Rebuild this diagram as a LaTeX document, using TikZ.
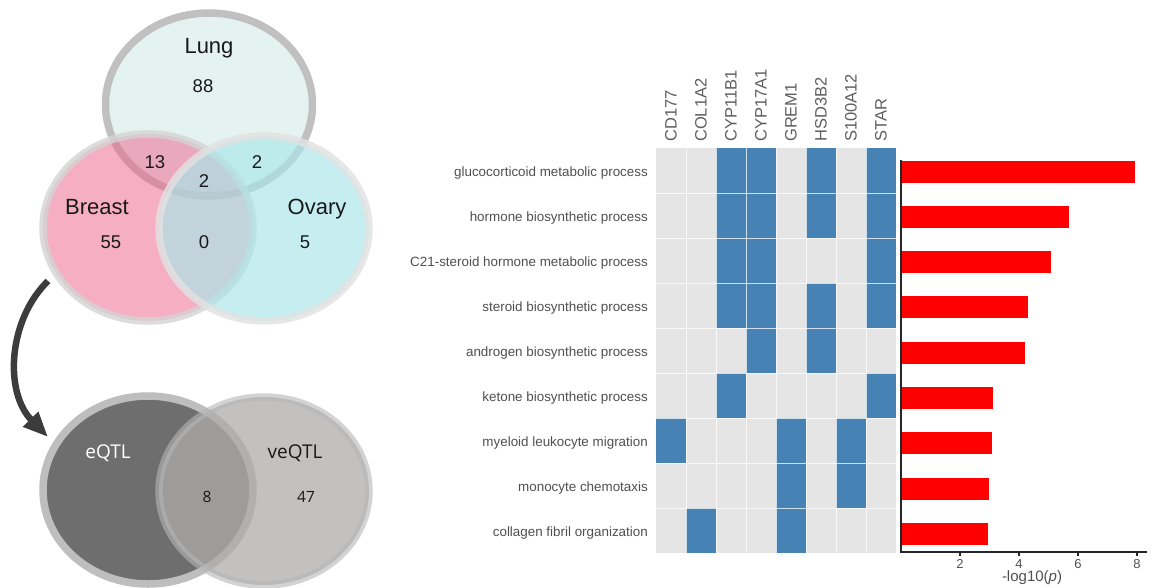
\documentclass[tikz,border=0pt]{standalone}
\usepackage{fontspec}
\setmainfont{Liberation Sans}
\newfontfamily\osans{Open Sans}
\usetikzlibrary{arrows.meta}
\definecolor{lungfill}{RGB}{229,243,240}
\definecolor{lungbd}{RGB}{192,192,192}
\definecolor{breastfill}{RGB}{237,95,139}
\definecolor{breastbd}{RGB}{212,212,212}
\definecolor{ovaryfill}{RGB}{170,230,233}
\definecolor{ovarybd}{RGB}{226,226,226}
\definecolor{eqfill}{RGB}{110,110,110}
\definecolor{eqbd}{RGB}{190,190,190}
\definecolor{veqfill}{RGB}{175,171,171}
\definecolor{veqbd}{RGB}{182,182,182}
\definecolor{hmgray}{RGB}{229,229,229}
\definecolor{hmblue}{RGB}{70,130,180}
\definecolor{labgray}{RGB}{80,80,80}
\definecolor{colgray}{RGB}{95,95,95}
\definecolor{arrowc}{RGB}{60,60,60}
\definecolor{txt}{RGB}{25,25,25}
\tikzset{
  vennbd/.style={line width=7.5pt},
  vennlab/.style={inner sep=0pt, anchor=base, text=txt, font=\fontsize{22}{26}\selectfont},
  vennnum/.style={inner sep=0pt, anchor=base, text=txt, font=\fontsize{18.5}{22}\selectfont},
  qtllab/.style={inner sep=0pt, anchor=base, font=\osans\fontsize{19}{23}\selectfont},
  qtlnum/.style={inner sep=0pt, anchor=base, text=txt, font=\osans\fontsize{15.5}{18}\selectfont},
  collab/.style={inner sep=0pt, rotate=90, anchor=west, text=colgray, font=\fontsize{16.5}{19}\selectfont},
  rowlab/.style={inner sep=0pt, anchor=base east, text=labgray, font=\fontsize{13.4}{16}\selectfont},
  ticklab/.style={inner sep=0pt, anchor=base, text=labgray, font=\fontsize{13}{15}\selectfont},
  cellgrid/.style={white, line width=0.8pt, opacity=0.75},
  bigarrow/.style={arrowc, line width=6.5pt, -{Triangle[length=25pt,width=20pt]}},
  axisline/.style={black!85, line width=1.2pt},
}
\begin{document}
\begin{tikzpicture}[x=1pt,y=-1pt]
\useasboundingbox (0,0) rectangle (1155,587);
\clip (0,0) rectangle (1155,587);
\fill[white] (0,0) rectangle (1155,587);

% ---------- top Venn ----------
\fill[lungfill] (209,104.5) ellipse [x radius=103.5pt, y radius=91.5pt];
\draw[vennbd, lungbd] (209,104.5) ellipse [x radius=103.5pt, y radius=91.5pt];
\fill[breastfill, fill opacity=0.5] (148,227.5) ellipse [x radius=105pt, y radius=93.5pt];
\draw[vennbd, breastbd, draw opacity=0.8] (148,227.5) ellipse [x radius=105pt, y radius=93.5pt];
\fill[ovaryfill, fill opacity=0.67] (264,228.5) ellipse [x radius=105pt, y radius=92.5pt];
\draw[vennbd, ovarybd, draw opacity=0.8] (264,228.5) ellipse [x radius=105pt, y radius=92.5pt];

\node[vennlab] (lung) at (209,53) {Lung};
\node[vennnum] (n88) at (203,92) {88};
\node[vennnum] (n13) at (155,168) {13};
\node[vennnum] (n2a) at (257,168) {2};
\node[vennnum] (n2b) at (204,187) {2};
\node[vennlab] (breast) at (97,214) {Breast};
\node[vennlab] (ovary) at (317,214) {Ovary};
\node[vennnum] (n55) at (111,248) {55};
\node[vennnum] (n0) at (204,248) {0};
\node[vennnum] (n5) at (305,248) {5};

% ---------- bottom Venn ----------
\fill[eqfill] (148,490) ellipse [x radius=105pt, y radius=94pt];
\draw[vennbd, eqbd] (148,490) ellipse [x radius=105pt, y radius=94pt];
\fill[veqfill, fill opacity=0.745] (264,491) ellipse [x radius=105pt, y radius=94pt];
\draw[vennbd, veqbd, draw opacity=0.6] (264,491) ellipse [x radius=105pt, y radius=94pt];

\node[qtllab, text=white] (eqtl) at (108,458) {eQTL};
\node[qtllab, text=txt] (veqtl) at (295,458) {veQTL};
\node[qtlnum] (n8) at (207,502) {8};
\node[qtlnum] (n47) at (306,502) {47};

% ---------- arrow ----------
\coordinate (arrS) at (48,281);
\coordinate (arrE) at (48,437);
\draw[bigarrow] (arrS) .. controls (8,320) and (4,392) .. (arrE);

% ---------- heatmap ----------
\foreach \r in {1,...,9} {
  \foreach \c in {1,...,8} {
    \fill[hmgray] ({656+30*(\c-1)},{148+45*(\r-1)}) rectangle +(30,45);
  }
}
\foreach \r/\c in {1/3,1/4,1/6,1/8,2/3,2/4,2/6,2/8,3/3,3/4,3/8,4/3,4/4,4/6,4/8,5/4,5/6,6/3,6/8,7/1,7/5,7/7,8/5,8/7,9/2,9/5} {
  \fill[hmblue] ({656+30*(\c-1)},{148+45*(\r-1)}) rectangle +(30,45);
}
\foreach \k in {1,...,7} {
  \draw[cellgrid] ({656+30*\k},148) -- ({656+30*\k},553);
}
\foreach \k in {1,...,8} {
  \draw[cellgrid] (656,{148+45*\k}) -- (896,{148+45*\k});
}

\foreach \t [count=\c] in {CD177,COL1A2,CYP11B1,CYP17A1,GREM1,HSD3B2,S100A12,STAR} {
  \node[collab] (col\c) at ({641+30*\c},142) {\t};
}
\foreach \t [count=\i] in {glucocorticoid metabolic process,hormone biosynthetic process,C21-steroid hormone metabolic process,steroid biosynthetic process,androgen biosynthetic process,ketone biosynthetic process,myeloid leukocyte migration,monocyte chemotaxis,collagen fibril organization} {
  \node[rowlab] (row\i) at (648,{131+45*\i}) {\t};
}

% ---------- bar chart ----------
\foreach \v [count=\i] in {7.93,5.7,5.08,4.3,4.2,3.12,3.08,2.98,2.95} {
  \fill[red] (901,{171.5+45.3*(\i-1)-11}) rectangle ({901+29.5*\v},{171.5+45.3*(\i-1)+11});
}
\coordinate (axTop) at (901,160);
\coordinate (axO) at (901,552);
\coordinate (axR) at (1147,552);
\draw[axisline] (axTop) -- (axO) -- (axR);
\foreach \k in {2,4,6,8} {
  \draw[axisline] ({901+29.5*\k},552) -- ({901+29.5*\k},555.5);
  \node[ticklab] (tick\k) at ({901+29.5*\k},568) {\k};
}
\node[inner sep=0pt, anchor=base, text=labgray, font=\fontsize{15}{18}\selectfont] (xlab) at (1032,581) {-log10(\textit{p})};
\end{tikzpicture}
\end{document}
